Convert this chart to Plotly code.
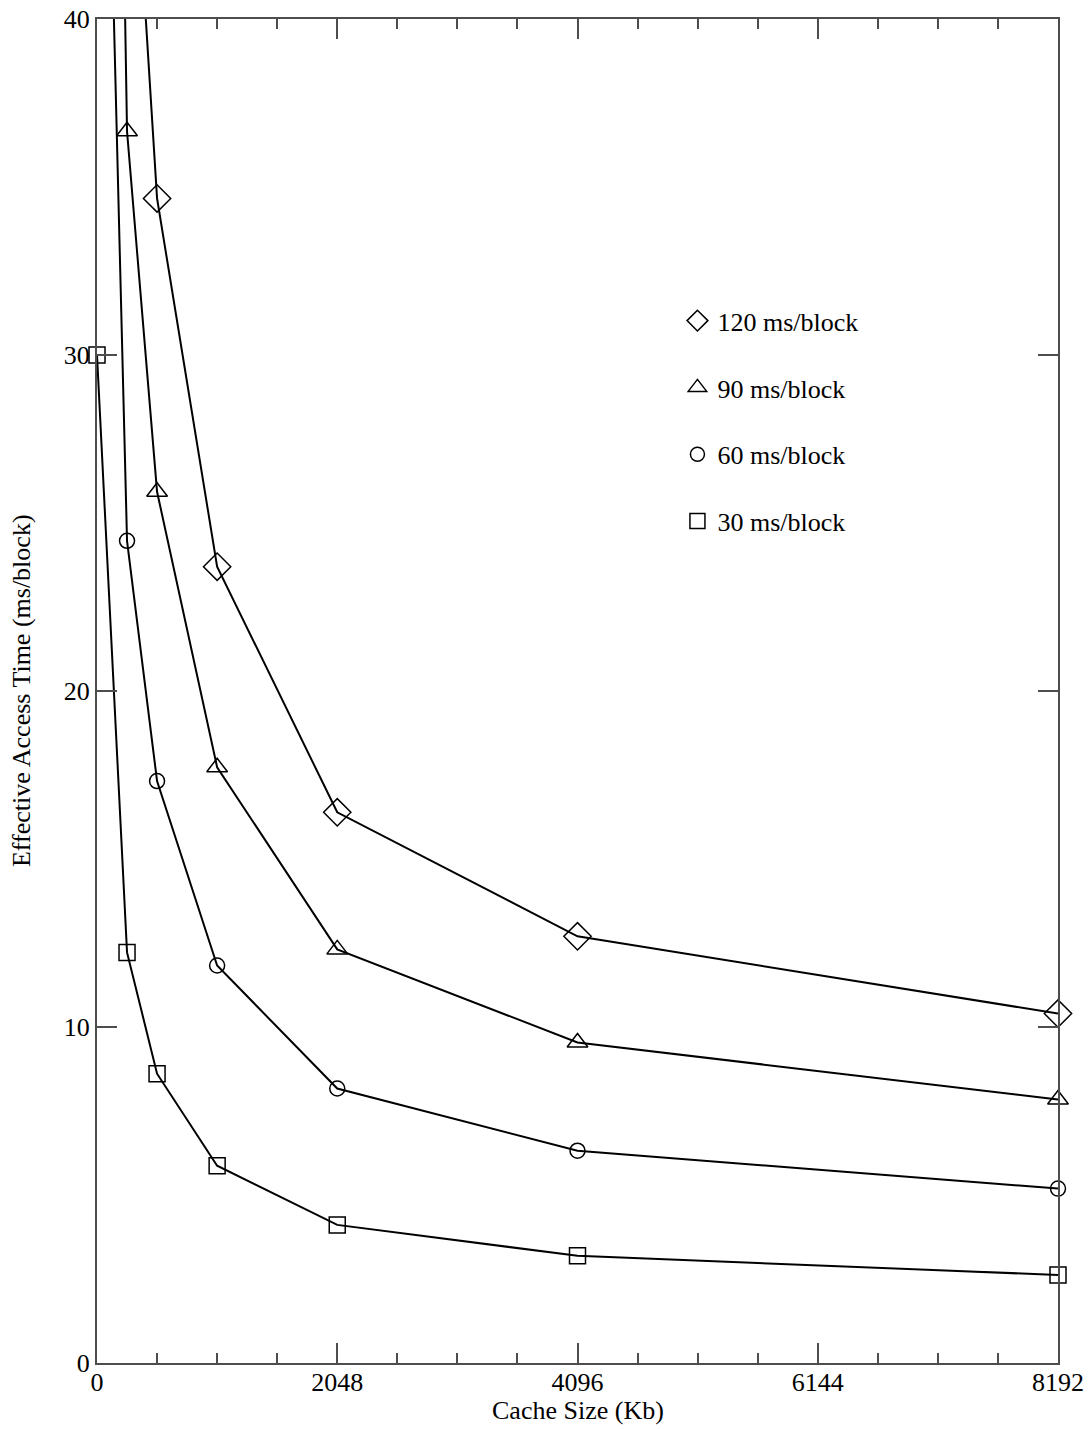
import plotly.graph_objects as go

cache_kb = [0, 256, 512, 1024, 2048, 4096, 8192]
t30 = [30, 12.22, 8.61, 5.87, 4.11, 3.19, 2.62]
t60 = [60, 24.47, 17.32, 11.83, 8.17, 6.32, 5.19]
t90 = [90, 36.66, 25.93, 17.73, 12.31, 9.54, 7.84]
t120 = [120, 48.9, 34.66, 23.70, 16.39, 12.70, 10.40]

series = [
    ("120 ms/block", t120, "diamond-open", 21),
    ("90 ms/block", t90, "triangle-up-open", 18),
    ("60 ms/block", t60, "circle-open", 15),
    ("30 ms/block", t30, "square-open", 16),
]

Y_MAX = 40
FONT = "Liberation Serif, Times New Roman, serif"

fig = go.Figure()
for i, (name, vals, sym, sz) in enumerate(series):
    fig.add_trace(go.Scatter(x=cache_kb, y=vals, mode="lines",
                             line=dict(color="black", width=2),
                             cliponaxis=True, showlegend=False, hoverinfo="skip"))
    xs = [x for x, v in zip(cache_kb, vals) if v <= Y_MAX]
    ys = [v for v in vals if v <= Y_MAX]
    fig.add_trace(go.Scatter(x=xs, y=ys, mode="markers",
                             marker=dict(symbol=sym, size=sz, color="black",
                                         line=dict(width=1.5, color="black")),
                             cliponaxis=False, showlegend=False))
    fig.add_trace(go.Scatter(x=[None], y=[None], mode="markers", name=name,
                             legendgroup=f"g{i}",
                             marker=dict(symbol=sym, size=sz - 1, color="black",
                                         line=dict(width=1.5, color="black"))))

axis_common = dict(
    showline=True, linecolor="#4d4d4d", linewidth=2, mirror="ticks",
    ticks="inside", ticklen=20, tickwidth=1.5, tickcolor="#4d4d4d",
    showgrid=False, zeroline=False, automargin=False,
    tickfont=dict(family=FONT, size=26, color="black"),
)

fig.update_xaxes(range=[0, 8192], tickvals=[0, 2048, 4096, 6144, 8192],
                 minor=dict(dtick=512, tick0=0, ticks="inside", ticklen=10,
                            tickwidth=1.5, tickcolor="#4d4d4d"),
                 ticklabelstandoff=-5,
                 **axis_common)
fig.update_yaxes(range=[0, 40], tickvals=[0, 10, 20, 30, 40], **axis_common)

fig.add_annotation(text="Cache Size (Kb)", xref="paper", yref="paper",
                   x=0.5, y=-0.0355, xanchor="center", yanchor="middle",
                   showarrow=False, font=dict(family=FONT, size=26, color="black"))
fig.add_annotation(text="Effective Access Time (ms/block)", xref="paper", yref="paper",
                   x=-0.079, y=0.5, xanchor="center", yanchor="middle", textangle=-90,
                   showarrow=False, font=dict(family=FONT, size=26, color="black"))

fig.update_layout(
    width=1090, height=1429,
    margin=dict(l=97, r=32, t=19, b=66, autoexpand=False),
    paper_bgcolor="white", plot_bgcolor="white",
    font=dict(family=FONT, size=26, color="black"),
    legend=dict(x=0.604, y=0.793, xanchor="left", yanchor="top",
                bgcolor="rgba(0,0,0,0)", tracegroupgap=30,
                font=dict(family=FONT, size=26, color="black"),
                itemwidth=30),
    showlegend=True,
)

fig.write_html("out.html", config={"displayModeBar": False},
               post_script="document.body.style.margin='0';document.body.style.overflow='hidden';")
